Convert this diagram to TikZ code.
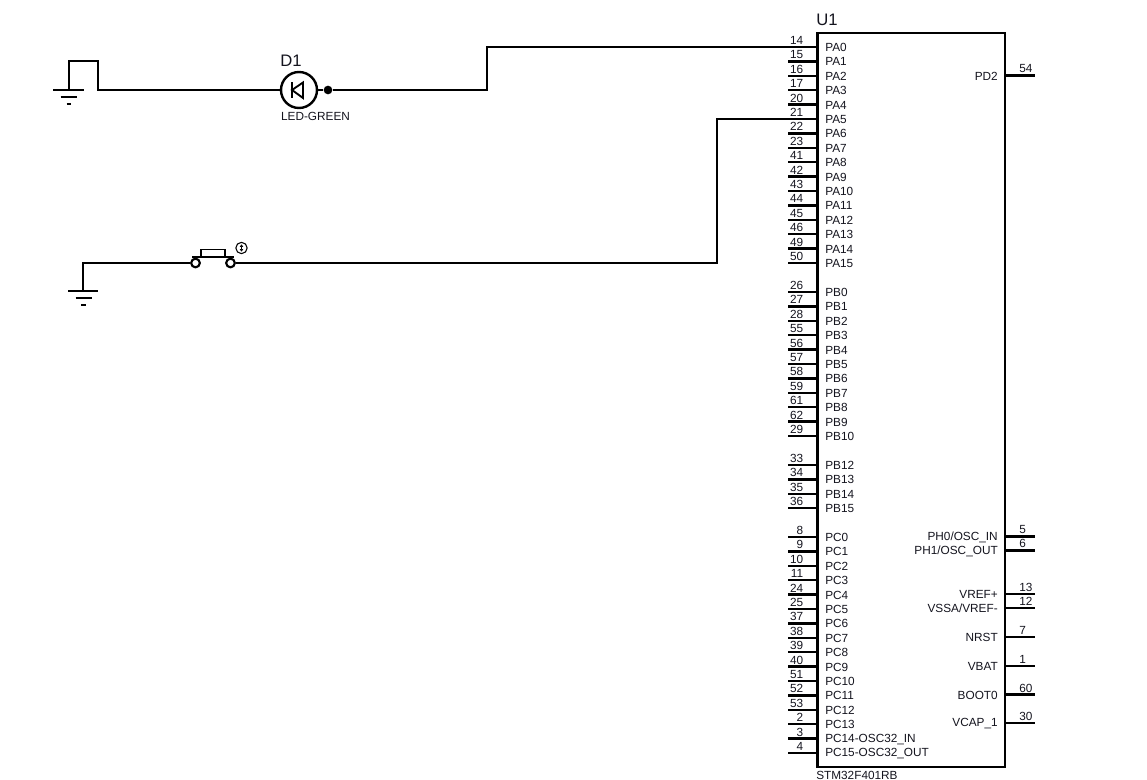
\documentclass[tikz,border=0pt]{standalone}
\usepackage{fontspec}
\usetikzlibrary{arrows.meta}
\setmainfont{Liberation Sans}
\definecolor{ink}{HTML}{14141E}
\begin{document}
\begin{tikzpicture}[x=0.75pt,y=-0.75pt,
  wire/.style={draw=black,line width=1.8pt,line join=miter},
  pinline/.style={draw=black,line width=1.8pt},
  pinlab/.style={font=\fontsize{8.85}{10}\selectfont,text=ink,inner sep=0pt},
  pinnum/.style={font=\fontsize{8.85}{10}\selectfont,text=ink,inner sep=0pt},
  reflab/.style={font=\fontsize{12.5}{14}\selectfont,text=ink,inner sep=0pt},
  chip/.style={draw=black,line width=1.8pt,fill=white,inner sep=0pt},
  gndbar/.style={draw=black,line width=1.6pt},
]
\useasboundingbox (0,0) rectangle (1147,780);
\clip (0,0) rectangle (1147,780);
% chip
\draw[chip] (817.5,33) rectangle (1005,767);
\node[reflab,anchor=base west] (u1) at (816,26) {U1};
\node[pinlab,anchor=base west] (partname) at (816,779) {STM32F401RB};
% left pins
\foreach \nm/\num/\yy in {
 PA0/14/47,PA1/15/61.4,PA2/16/75.8,PA3/17/90.2,PA4/20/104.6,PA5/21/119,PA6/22/133.4,PA7/23/147.8,
 PA8/41/162.2,PA9/42/176.6,PA10/43/191,PA11/44/205.4,PA12/45/219.8,PA13/46/234.2,PA14/49/248.6,PA15/50/263,
 PB0/26/292,PB1/27/306.4,PB2/28/320.8,PB3/55/335.2,PB4/56/349.6,PB5/57/364,PB6/58/378.4,PB7/59/392.8,
 PB8/61/407.2,PB9/62/421.6,PB10/29/436,
 PB12/33/465,PB13/34/479.4,PB14/35/493.8,PB15/36/508.2,
 PC0/8/537,PC1/9/551.4,PC2/10/565.8,PC3/11/580.2,PC4/24/594.6,PC5/25/609,PC6/37/623.4,PC7/38/637.8,
 PC8/39/652.2,PC9/40/666.6,PC10/51/681,PC11/52/695.4,PC12/53/709.8,PC13/2/724.2,
 PC14-OSC32\_IN/3/738.6,PC15-OSC32\_OUT/4/753}
{
  \draw[pinline] (788,\yy) -- (817.5,\yy);
  \node[pinlab,anchor=west] (lab-\num) at (825,\yy+0.5) {\nm};
  \node[pinnum,anchor=base east] (num-\num) at (803.5,\yy-2.5) {\num};
  \coordinate (pin-\num) at (788,\yy);
}
% right pins
\foreach \nm/\num/\yy in {
 PD2/54/75.5,PH0\slash OSC\_IN/5/536.5,PH1\slash OSC\_OUT/6/550.5,VREF+/13/594,VSSA\slash VREF-/12/608,
 NRST/7/637,VBAT/1/666,BOOT0/60/694.5,VCAP\_1/30/723}
{
  \draw[pinline] (1005,\yy) -- (1035,\yy);
  \node[pinlab,anchor=east] (lab-\num) at (998,\yy+0.5) {\nm};
  \node[pinnum,anchor=base west] (num-\num) at (1019,\yy-2.5) {\num};
}
% LED
\node[circle,draw=black,line width=1.8pt,minimum size=27pt,inner sep=0pt] (d1) at (299,90) {};
\draw[line width=1.4pt,line join=miter] (303,82.5) -- (292,90) -- (303,98) -- cycle;
\draw[line width=1.4pt] (292,82.5) -- (292,98);
\node[reflab,anchor=base west] (d1ref) at (280,67) {D1};
\node[font=\fontsize{8.85}{10}\selectfont,text=ink,inner sep=0pt] (d1val) at (315.5,116) {LED-GREEN};
\node[circle,fill=black,minimum size=6.5pt,inner sep=0pt] (junc) at (328,90) {};
% ground 1
\coordinate (g1) at (69,90);
\draw[gndbar] (53,90) -- (84,90);
\draw[gndbar] (60.5,97) -- (77,97);
\draw[gndbar] (66.5,104) -- (71,104);
\draw[wire] (g1) -- (69,61) -- (98,61) -- (98,90) -- (d1.west);
\draw[wire] (d1.east) -- (junc) -- (487,90) -- (487,47) -- (pin-14);
% button
\node[circle,draw=black,line width=1.6pt,fill=white,minimum size=6.5pt,inner sep=0pt] (swa) at (195.5,263) {};
\node[circle,draw=black,line width=1.6pt,fill=white,minimum size=6.5pt,inner sep=0pt] (swb) at (230.5,263) {};
\draw[line width=1.8pt] (192,257) -- (234,257);
\draw[line width=1.3pt] (201,257) -- (201,249.5) -- (225,249.5) -- (225,257);
\node[circle,draw=black,line width=0.8pt,minimum size=8.5pt,inner sep=0pt] (swind) at (241.5,248) {};
\draw[line width=0.7pt,{Latex[length=2pt,width=3pt]}-{Latex[length=2pt,width=3pt]}] (241.5,244.3) -- (241.5,251.7);
% ground 2
\coordinate (g2) at (83,291);
\draw[gndbar] (68,291) -- (98,291);
\draw[gndbar] (75.5,298) -- (91.5,298);
\draw[gndbar] (81,305) -- (85.5,305);
\draw[wire] (g2) -- (83,263) -- (swa.west);
\draw[wire] (swb.east) -- (717,263) -- (717,119) -- (pin-21);
\end{tikzpicture}
\end{document}
